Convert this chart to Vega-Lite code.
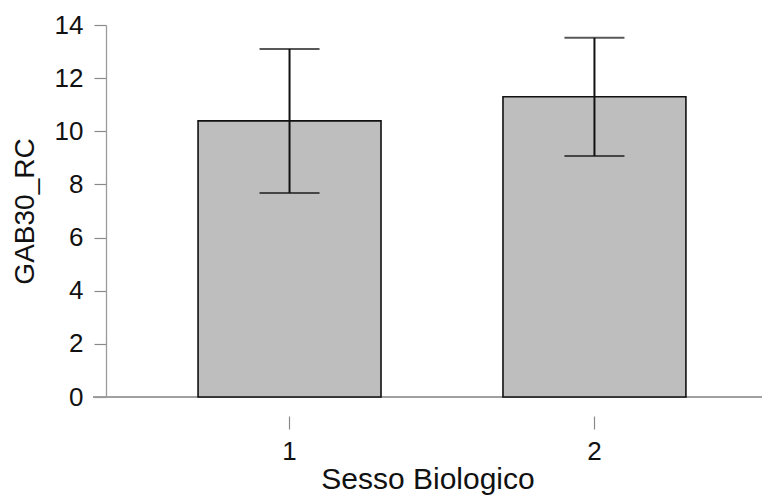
{
  "$schema": "https://vega.github.io/schema/vega-lite/v6.json",
  "width": 669,
  "height": 372,
  "autosize": "none",
  "padding": {"left": 93, "top": 25, "right": 0, "bottom": 101},
  "background": "white",
  "config": {
    "view": {"stroke": null},
    "font": "Liberation Sans",
    "axis": {
      "grid": false,
      "labelFont": "Liberation Sans",
      "titleFont": "Liberation Sans",
      "labelFontSize": 26,
      "titleFontSize": 29,
      "titleFontWeight": "normal",
      "labelColor": "#111111",
      "titleColor": "#111111",
      "domainColor": "#9a9a9a",
      "tickColor": "#8a8a8a",
      "tickWidth": 1.2,
      "domainWidth": 1.3
    }
  },
  "data": {
    "values": [
      {"sex": "1", "mean": 10.39, "lo": 7.68, "hi": 13.1},
      {"sex": "2", "mean": 11.3, "lo": 9.07, "hi": 13.52}
    ]
  },
  "encoding": {
    "x": {
      "field": "sex",
      "type": "nominal",
      "scale": {"paddingInner": 0.4, "paddingOuter": 0.297, "align": 0.58},
      "axis": {
        "title": "Sesso Biologico",
        "titleFontSize": 30,
        "labelAngle": 0,
        "domain": false,
        "offset": 19,
        "tickSize": 13,
        "labelPadding": 9,
        "titlePadding": 0
      }
    }
  },
  "layer": [
    {
      "mark": {"type": "rule", "color": "#9a9a9a", "strokeWidth": 1.3},
      "encoding": {"x": null, "y": {"datum": 0, "type": "quantitative"}}
    },
    {
      "mark": {"type": "bar", "fill": "#bebebe", "stroke": "#111111", "strokeWidth": 1.6},
      "encoding": {
        "y": {
          "field": "mean",
          "type": "quantitative",
          "scale": {"domain": [0, 14], "nice": false},
          "axis": {
            "title": "GAB30_RC",
            "titleFontSize": 28,
            "values": [0, 2, 4, 6, 8, 10, 12, 14],
            "offset": -13,
            "tickSize": 12,
            "labelPadding": 11,
            "titlePadding": 15
          }
        }
      }
    },
    {
      "mark": {"type": "rule", "color": "#111111", "strokeWidth": 2},
      "encoding": {
        "y": {"field": "lo", "type": "quantitative"},
        "y2": {"field": "hi"}
      }
    },
    {
      "mark": {"type": "tick", "color": "#111111", "thickness": 2, "size": 60},
      "encoding": {"y": {"field": "lo", "type": "quantitative"}}
    },
    {
      "mark": {"type": "tick", "color": "#111111", "thickness": 2, "size": 60},
      "encoding": {"y": {"field": "hi", "type": "quantitative"}}
    }
  ]
}
